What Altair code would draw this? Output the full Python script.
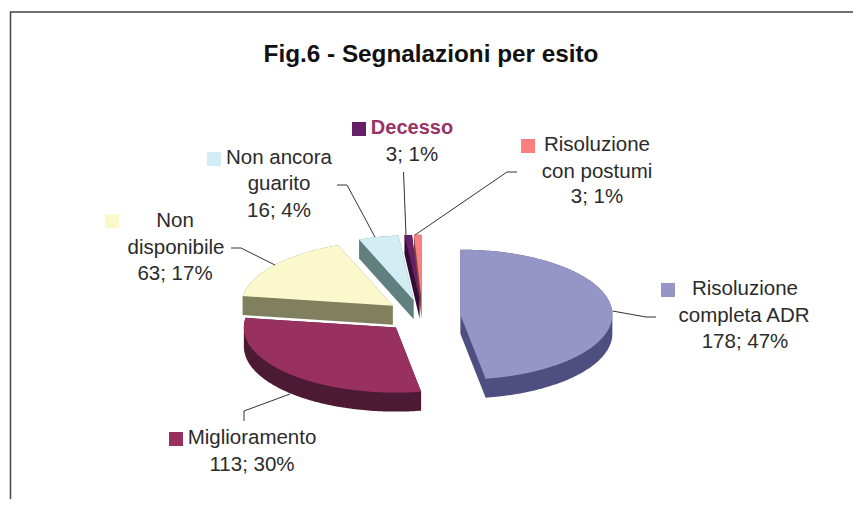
import math
import altair as alt

# --- chart values ---
categories = ["Risoluzione completa ADR", "Miglioramento", "Non disponibile",
              "Non ancora guarito", "Decesso", "Risoluzione con postumi"]
values = [178, 113, 63, 16, 3, 3]
top_colors = ["#9595C8", "#983060", "#FBF9CC", "#D2EDF3", "#662066", "#FA8080"]
side_colors = ["#4E4E80", "#4D1A33", "#80805F", "#627F7F", "#330D33", "#7F4040"]
title_text = "Fig.6 - Segnalazioni per esito"

# --- layout (page pixels; the page margin of 8px is removed below) ---
M = 8
CX, CY, RX, RY, EXPLODE, DEPTH = 422.5, 316, 152, 65, 38, 19
RATIO = RY / RX
total = sum(values)
pct = [round(v / total * 100) for v in values]
vtxt = [f"{v}; {p}%" for v, p in zip(values, pct)]


def hull(points):
    pts = sorted(set(points))
    def half(seq):
        out = []
        for p in seq:
            while len(out) > 1 and ((out[-1][0]-out[-2][0])*(p[1]-out[-2][1]) -
                                    (out[-1][1]-out[-2][1])*(p[0]-out[-2][0])) <= 0:
                out.pop()
            out.append(p)
        return out[:-1]
    return half(pts) + half(pts[::-1])


def feature(ring, key, part):
    ring = [list(p) for p in ring]
    return {"type": "Feature", "properties": {"key": f"{key}|{part}"},
            "geometry": {"type": "Polygon", "coordinates": [ring + [ring[0]]]}}


slices = {}
start = 0.0
for name, v in zip(categories, values):
    sweep = v / total * 360
    mid = math.radians(start + sweep / 2)
    ax = CX + EXPLODE * math.sin(mid) - M
    ay = CY - EXPLODE * RATIO * math.cos(mid) - M
    n = max(4, int(sweep))
    ring = [(ax, ay)]
    for i in range(n + 1):
        t = math.radians(start + sweep * i / n)
        ring.append((ax + RX * math.sin(t), ay - RY * math.cos(t)))
    slices[name] = ring
    start += sweep

paint_order = ["Risoluzione completa ADR", "Risoluzione con postumi", "Decesso",
               "Non ancora guarito", "Miglioramento", "Non disponibile"]
features = []
for name in paint_order:
    ring = slices[name]
    side = hull([tuple(p) for p in ring] + [(p[0], p[1] + DEPTH) for p in ring])
    features.append(feature(side, name, "side"))
    features.append(feature(ring, name, "top"))

domain = [f"{c}|top" for c in categories] + [f"{c}|side" for c in categories]
rng = top_colors + side_colors

pie = alt.Chart(alt.Data(values=features)).mark_geoshape(stroke=None, strokeWidth=0).encode(
    color=alt.Color("properties.key:N", scale=alt.Scale(domain=domain, range=rng), legend=None)
).properties(projection=alt.Projection(type="identity", scale=1, translate=[0, 0]))

X = alt.X("x:Q", scale=None, axis=None)
Y = alt.Y("y:Q", scale=None, axis=None)


def shift(rows):
    return [{**r, "x": r["x"] - M, "y": r["y"] - M} for r in rows]


# leader lines
leaders = [
    [(612.5, 311), (646, 317), (656, 317)],
    [(415, 235), (507, 172), (517, 172)],
    [(406, 235), (403.5, 172)],
    [(375, 237), (347, 185), (337, 185)],
    [(275, 265), (241, 248), (231, 248)],
    [(290, 394), (244, 411), (244, 421)],
]
leader_rows = [{"x": x, "y": y, "id": i, "o": j}
               for i, line in enumerate(leaders) for j, (x, y) in enumerate(line)]
leader_chart = alt.Chart(alt.Data(values=shift(leader_rows))).mark_line(
    color="#333333", strokeWidth=1).encode(x=X, y=Y, detail="id:N", order="o:Q")

# frame
frame_rows = [{"x": 861, "y": 12, "o": 0}, {"x": 10.5, "y": 12, "o": 1}, {"x": 10.5, "y": 507, "o": 2}]
frame = alt.Chart(alt.Data(values=shift(frame_rows))).mark_line(
    color="#444444", strokeWidth=1.5).encode(x=X, y=Y, order="o:Q")

# legend keys
key_pos = [(668, 290), (176, 439), (112, 221), (214, 159), (359, 129), (528, 146)]
key_rows = [{"x": x, "y": y, "c": c} for (x, y), c in zip(key_pos, categories)]
keys = alt.Chart(alt.Data(values=shift(key_rows))).mark_square(size=196, opacity=1, filled=True).encode(
    x=X, y=Y,
    color=alt.Color("c:N", scale=alt.Scale(domain=categories, range=top_colors), legend=None))

# labels
label_rows = [
    {"x": 745, "y": 295, "t": "Risoluzione"},
    {"x": 744, "y": 322, "t": "completa ADR"},
    {"x": 745, "y": 348, "t": vtxt[0]},
    {"x": 252, "y": 444, "t": "Miglioramento"},
    {"x": 252, "y": 471, "t": vtxt[1]},
    {"x": 175, "y": 227, "t": "Non"},
    {"x": 176, "y": 254, "t": "disponibile"},
    {"x": 175, "y": 280, "t": vtxt[2]},
    {"x": 279, "y": 164, "t": "Non ancora"},
    {"x": 279, "y": 190, "t": "guarito"},
    {"x": 279, "y": 217, "t": vtxt[3]},
    {"x": 412, "y": 161, "t": vtxt[4]},
    {"x": 597, "y": 151, "t": "Risoluzione"},
    {"x": 597, "y": 178, "t": "con postumi"},
    {"x": 597, "y": 203, "t": vtxt[5]},
]
labels = alt.Chart(alt.Data(values=shift(label_rows))).mark_text(
    font="Liberation Sans", fontSize=20.5, color="#2b2b2b", align="center", baseline="alphabetic"
).encode(x=X, y=Y, text="t:N")

decesso = alt.Chart(alt.Data(values=shift([{"x": 412, "y": 134, "t": categories[4]}]))).mark_text(
    font="Liberation Sans", fontSize=20, fontWeight="bold", color="#993366",
    align="center", baseline="alphabetic").encode(x=X, y=Y, text="t:N")

title = alt.Chart(alt.Data(values=shift([{"x": 431, "y": 62, "t": title_text}]))).mark_text(
    font="Liberation Sans", fontSize=24.3, fontWeight="bold", color="#111111",
    align="center", baseline="alphabetic").encode(x=X, y=Y, text="t:N")

chart = alt.layer(frame, pie, leader_chart, keys, labels, decesso, title).properties(
    width=845, height=491, padding=0,
    autosize=alt.AutoSizeParams(type="none"),
    background="white"
).configure_view(stroke=None)

chart.save("out.html", embed_options={"renderer": "svg", "actions": False})
